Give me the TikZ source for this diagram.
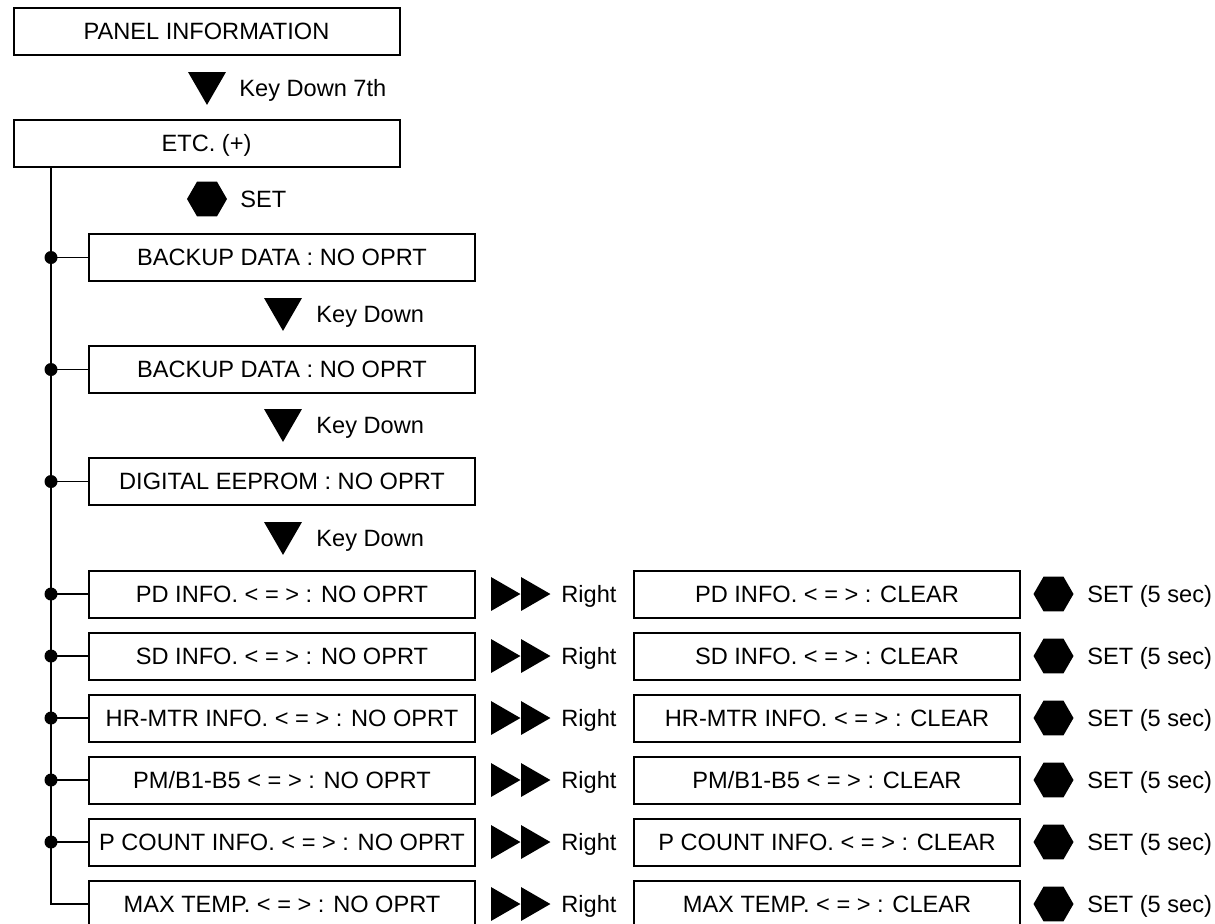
\documentclass[tikz,border=0pt]{standalone}
\usepackage{fontspec}
\setmainfont{Liberation Sans}
\usetikzlibrary{positioning,shapes.geometric}
\tikzset{
  box/.style={draw,line width=1pt,minimum width=193pt,minimum height=23.5pt,inner sep=0pt,text height=8.4pt,text depth=0pt},
  lbl/.style={anchor=west,inner sep=0pt,text height=8.4pt,text depth=0pt},
  downkey/.style={regular polygon,regular polygon sides=3,shape border rotate=180,fill,inner sep=0pt,minimum size=21.9pt},
  rightkey/.style={regular polygon,regular polygon sides=3,shape border rotate=-90,fill,inner sep=0pt,minimum size=19.6pt},
  setkey/.style={regular polygon,regular polygon sides=6,fill,inner sep=0pt,minimum size=20pt},
  link/.style={line width=0.55pt},
  joint/.style={circle,fill,inner sep=0pt,minimum size=6.5pt}
}
\begin{document}
\begin{tikzpicture}[x=0.5pt,y=-0.5pt,font=\fontsize{11.8}{13.5}\selectfont]
                \clip (0,0) rectangle (1215,923);
                \path (206.5,31.5) node[box] (pan) {PANEL INFORMATION};
                \path (207,83) node[downkey] (k0) {};
                \path (239,88) node[lbl] (k0t) {Key Down 7th};
                \path (206.5,143) node[box] (etc) {ETC. (+)};
                \path (207,199) node[setkey] (s0) {};
                \path (240,199) node[lbl] (s0t) {SET};
                \path (282,257.5) node[box] (bk1) {BACKUP DATA : NO OPRT};
                \path (283,309) node[downkey] (k1) {};
                \path (316,314) node[lbl] (k1t) {Key Down};
                \path (282,369.5) node[box] (bk2) {BACKUP DATA : NO OPRT};
                \path (283,420) node[downkey] (k2) {};
                \path (316,425) node[lbl] (k2t) {Key Down};
                \path (282,481.5) node[box] (eep) {DIGITAL EEPROM : NO OPRT};
                \path (283,533) node[downkey] (k3) {};
                \path (316,538) node[lbl] (k3t) {Key Down};
                \path (282,594) node[box] (pd) {PD INFO. < = > : NO OPRT};
                \path (282,656) node[box] (sd) {SD INFO. < = > : NO OPRT};
                \path (282,718) node[box] (hr) {HR-MTR INFO. < = > : NO OPRT};
                \path (282,780) node[box] (pm) {PM/B1-B5 < = > : NO OPRT};
                \path (282,842) node[box] (pc) {P COUNT INFO. < = > : NO OPRT};
                \path (282,904) node[box] (mt) {MAX TEMP. < = > : NO OPRT};
                \path node[box,right=78.5pt of pd] (pdc) {PD INFO. < = > : CLEAR};
                \path node[box,right=78.5pt of sd] (sdc) {SD INFO. < = > : CLEAR};
                \path node[box,right=78.5pt of hr] (hrc) {HR-MTR INFO. < = > : CLEAR};
                \path node[box,right=78.5pt of pm] (pmc) {PM/B1-B5 < = > : CLEAR};
                \path node[box,right=78.5pt of pc] (pcc) {P COUNT INFO. < = > : CLEAR};
                \path node[box,right=78.5pt of mt] (mtc) {MAX TEMP. < = > : CLEAR};
                \path (500.8,594) node[rightkey] (pda) {} (530.8,594) node[rightkey] (pdb) {} (561,594) node[lbl] (pdt) {Right};
                \path (500.8,656) node[rightkey] (sda) {} (530.8,656) node[rightkey] (sdb) {} (561,656) node[lbl] (sdt) {Right};
                \path (500.8,718) node[rightkey] (hra) {} (530.8,718) node[rightkey] (hrb) {} (561,718) node[lbl] (hrt) {Right};
                \path (500.8,780) node[rightkey] (pma) {} (530.8,780) node[rightkey] (pmb) {} (561,780) node[lbl] (pmt) {Right};
                \path (500.8,842) node[rightkey] (pca) {} (530.8,842) node[rightkey] (pcb) {} (561,842) node[lbl] (pct) {Right};
                \path (500.8,904) node[rightkey] (mta) {} (530.8,904) node[rightkey] (mtb) {} (561,904) node[lbl] (mtt) {Right};
                \path (1053.5,594) node[setkey] (pds) {} (1087,594) node[lbl] (pdst) {SET (5 sec)};
                \path (1053.5,656) node[setkey] (sds) {} (1087,656) node[lbl] (sdst) {SET (5 sec)};
                \path (1053.5,718) node[setkey] (hrs) {} (1087,718) node[lbl] (hrst) {SET (5 sec)};
                \path (1053.5,780) node[setkey] (pms) {} (1087,780) node[lbl] (pmst) {SET (5 sec)};
                \path (1053.5,842) node[setkey] (pcs) {} (1087,842) node[lbl] (pcst) {SET (5 sec)};
                \path (1053.5,904) node[setkey] (mts) {} (1087,904) node[lbl] (mtst) {SET (5 sec)};
                \draw[link] (etc.south west) ++(38.5,0) coordinate (trunk) -- (trunk |- mt.west) -- (mt.west);
                \draw[link] (trunk |- bk1.west) node[joint] (j1) {} -- (bk1.west);
                \draw[link] (trunk |- bk2.west) node[joint] (j2) {} -- (bk2.west);
                \draw[link] (trunk |- eep.west) node[joint] (j3) {} -- (eep.west);
                \draw[link] (trunk |- pd.west) node[joint] (j4) {} -- (pd.west);
                \draw[link] (trunk |- sd.west) node[joint] (j5) {} -- (sd.west);
                \draw[link] (trunk |- hr.west) node[joint] (j6) {} -- (hr.west);
                \draw[link] (trunk |- pm.west) node[joint] (j7) {} -- (pm.west);
                \draw[link] (trunk |- pc.west) node[joint] (j8) {} -- (pc.west);
              \end{tikzpicture}
\end{document}
